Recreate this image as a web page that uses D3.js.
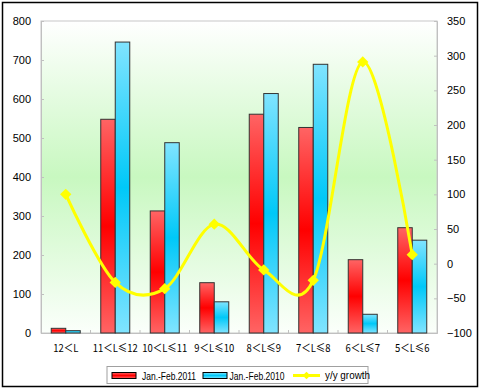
<!DOCTYPE html>
<html><head><meta charset="utf-8">
<script src="https://cdn.jsdelivr.net/npm/d3@7"></script>
<style>body{margin:0;background:#fff}svg{display:block}</style>
</head><body>
<svg id="c" width="480" height="390"></svg>
<script>
const categories = ["12＜L","11＜L≤12","10＜L≤11","9＜L≤10","8＜L≤9","7＜L≤8","6＜L≤7","5＜L≤6"];
const sales2011 = [12, 548, 313, 129, 561, 527, 188, 270];
const sales2010 = [6, 746, 488, 80, 614, 689, 48, 238];
const growth = [100, -27, -36, 57, -9, -24, 291, 13];
const leftTicks = [0,100,200,300,400,500,600,700,800];
const rightTicks = [-100,-50,0,50,100,150,200,250,300,350];
const seriesNames = ["Jan.-Feb.2011","Jan.-Feb.2010","y/y growth"];

const svg = d3.select("#c");
const L = 41, R = 437, T = 21, B = 333;
const defs = svg.append("defs");
const bg = defs.append("linearGradient").attr("id","bg").attr("x1",0).attr("y1",0).attr("x2",0).attr("y2",1);
bg.append("stop").attr("offset","0%").attr("stop-color","#ffffff");
bg.append("stop").attr("offset","50%").attr("stop-color","#c8f8c0");
bg.append("stop").attr("offset","100%").attr("stop-color","#fbfffb");
function barGrad(id, edge, mid){
  const g = defs.append("linearGradient").attr("id",id).attr("x1",0).attr("y1",0).attr("x2",0).attr("y2",1);
  g.append("stop").attr("offset","0%").attr("stop-color",edge);
  g.append("stop").attr("offset","50%").attr("stop-color",mid);
  g.append("stop").attr("offset","100%").attr("stop-color",edge);
}
barGrad("gr","#ff6464","#ff0000");
barGrad("gb","#80e4ff","#00c8f8");

svg.append("rect").attr("x",2.5).attr("y",2.5).attr("width",475).attr("height",384).attr("fill","#fff").attr("stroke","#000").attr("stroke-width",1.5);
svg.append("rect").attr("x",L).attr("y",T).attr("width",R-L).attr("height",B-T).attr("fill","url(#bg)").attr("stroke","#c8c8c8");

const x = d3.scaleBand().domain(categories).range([L,R]);
const yL = d3.scaleLinear().domain([0,800]).range([B,T]);
const yR = d3.scaleLinear().domain([-100,350]).range([B,T]);
const bw = 14.5;
const font = "Liberation Sans, Arial, sans-serif";

const axL = svg.append("g").attr("transform",`translate(${L},0)`).call(d3.axisLeft(yL).tickValues(leftTicks).tickSize(-3).tickPadding(10));
const axR = svg.append("g").attr("transform",`translate(${R},0)`).call(d3.axisRight(yR).tickValues(rightTicks).tickSize(-3).tickPadding(10));
const axB = svg.append("g").attr("transform",`translate(0,${B})`).call(d3.axisBottom(x).tickSize(0).tickPadding(11));
[axL,axR,axB].forEach(a=>{
  a.select(".domain").attr("stroke","#c0c0c0");
  a.selectAll(".tick line").attr("stroke","#c0c0c0");
  a.selectAll("text").attr("font-family",font).attr("font-size",11).attr("fill","#000");
});
axB.selectAll("text").attr("font-family","Noto Sans CJK SC, sans-serif").attr("font-size",11)
  .each(function(){ const w=this.getComputedTextLength(); d3.select(this).attr("textLength",w*0.86).attr("lengthAdjust","spacingAndGlyphs"); });
svg.append("g").selectAll("line").data(categories.slice(1)).join("line")
  .attr("x1",d=>x(d)).attr("x2",d=>x(d)).attr("y1",B).attr("y2",B-3).attr("stroke","#c0c0c0");

const g = svg.append("g");
g.selectAll(".r").data(sales2011).join("rect")
  .attr("x",(d,i)=>x(categories[i])+x.bandwidth()/2-bw).attr("width",bw)
  .attr("y",d=>yL(d)).attr("height",d=>B-yL(d))
  .attr("fill","url(#gr)").attr("stroke","#333").attr("stroke-width",1);
g.selectAll(".b").data(sales2010).join("rect")
  .attr("x",(d,i)=>x(categories[i])+x.bandwidth()/2).attr("width",bw)
  .attr("y",d=>yL(d)).attr("height",d=>B-yL(d))
  .attr("fill","url(#gb)").attr("stroke","#333").attr("stroke-width",1);

const pts = growth.map((d,i)=>[x(categories[i])+x.bandwidth()/2, yR(d)]);
svg.append("path").attr("d",d3.line().curve(d3.curveCardinal.tension(0))(pts))
  .attr("fill","none").attr("stroke","#ffff00").attr("stroke-width",3);
svg.append("g").selectAll("path").data(pts).join("path")
  .attr("d",d3.symbol().type(d3.symbolSquare).size(64))
  .attr("transform",d=>`translate(${d[0]},${d[1]}) rotate(45)`)
  .attr("fill","#ffff00");

const lg = svg.append("g");
lg.append("rect").attr("x",107).attr("y",366.5).attr("width",261).attr("height",17).attr("fill","#fff").attr("stroke","#a0a0a0");
lg.append("rect").attr("x",112).attr("y",372.5).attr("width",24).attr("height",6).attr("fill","url(#gr)").attr("stroke","#000");
lg.append("text").attr("x",142).attr("y",380).attr("data-w",54).text(seriesNames[0]);
lg.append("rect").attr("x",203).attr("y",372.5).attr("width",24).attr("height",6).attr("fill","url(#gb)").attr("stroke","#000");
lg.append("text").attr("x",229.5).attr("y",380).attr("data-w",55).text(seriesNames[1]);
lg.append("line").attr("x1",293).attr("x2",320).attr("y1",375.5).attr("y2",375.5).attr("stroke","#ffff00").attr("stroke-width",3);
lg.append("path").attr("d",d3.symbol().type(d3.symbolSquare).size(30)).attr("transform","translate(306.5,375.5) rotate(45)").attr("fill","#ffff00");
lg.append("text").attr("x",325).attr("y",379).attr("data-w",45).text(seriesNames[2]);
lg.selectAll("text").attr("font-family",font).attr("font-size",11).attr("fill","#000")
  .attr("textLength",function(){return this.getAttribute("data-w");}).attr("lengthAdjust","spacingAndGlyphs");
</script>
</body></html>
